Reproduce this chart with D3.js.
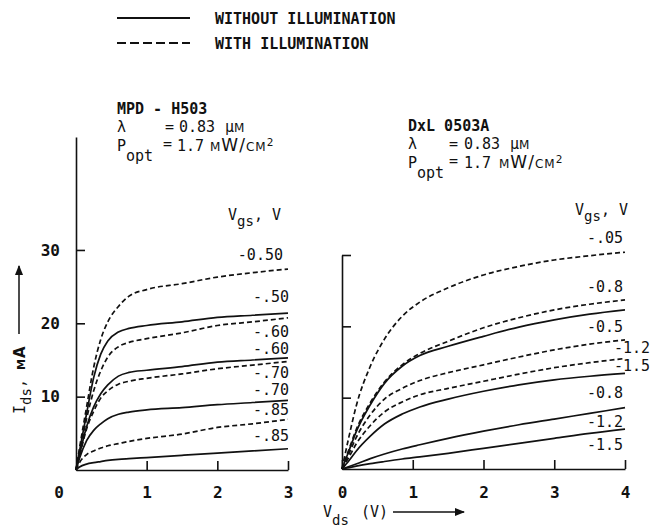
<!DOCTYPE html>
<html>
<head>
<meta charset="utf-8">
<script src="https://cdn.jsdelivr.net/npm/d3@7"></script>
<style>
body { margin: 0; background: #fff; }
text { font-family: "DejaVu Sans Mono", monospace; font-size: 15px; fill: #111; }
.sc { font-family: "DejaVu Sans", sans-serif; font-variant: small-caps; font-size: 17px; letter-spacing: 1px; }
.tick text { font-weight: bold; font-size: 16px; }
</style>
</head>
<body>
<svg id="chart" width="653" height="532"></svg>
<script>
// MPD - H503 (left), Ids in mA
let mpdVds = [0, 0.05, 0.15, 0.25, 0.35, 0.45, 0.6, 0.75, 1, 1.5, 2, 2.5, 3];
let mpdLit050  = [0, 3, 8.6, 14, 17.8, 20.2, 22.3, 23.7, 24.6, 25.4, 26.3, 26.9, 27.4];
let mpdDark050 = [0, 2.6, 7.7, 12.6, 15.8, 17.6, 18.8, 19.3, 19.7, 20.2, 20.8, 21.1, 21.4];
let mpdLit060  = [0, 2.3, 7, 10.8, 13.5, 15.4, 16.8, 17.4, 17.9, 18.7, 19.7, 20.2, 20.75];
let mpdDark060 = [0, 2.1, 5.9, 8.6, 10.4, 11.6, 12.8, 13.3, 13.6, 14.1, 14.7, 15, 15.3];
let mpdLit070  = [0, 1.9, 5.6, 8, 9.8, 10.8, 11.7, 12.1, 12.5, 13.1, 13.8, 14.3, 14.8];
let mpdDark070 = [0, 1.6, 4, 5.4, 6.3, 7, 7.6, 7.9, 8.2, 8.5, 8.9, 9.2, 9.5];
let mpdLit085  = [0, 1, 2.1, 2.6, 3, 3.3, 3.6, 3.9, 4.3, 4.9, 5.8, 6.3, 6.9];
let mpdDark085 = [0, 0.4, 0.8, 1.0, 1.15, 1.3, 1.45, 1.55, 1.7, 2.0, 2.3, 2.6, 2.9];
let mpdLabels = ["-0.50", "-.50", "-.60", "-.60", "-.70", "-.70", "-.85", "-.85"];
let mpdLabelAt = [28.6, 22.9, 18.2, 15.8, 12.6, 10.2, 7.5, 3.95];

// DxL 0503A (right)
let dxlVds = [0, 0.1, 0.2, 0.4, 0.6, 0.85, 1.1, 1.5, 2, 2.5, 3, 3.5, 4];
let dxlLit005  = [0, 4.6, 8.8, 14.4, 18.2, 21.4, 23.4, 25.4, 27.2, 28.4, 29.3, 29.9, 30.4];
let dxlLit08   = [0, 2.8, 5.5, 9.3, 12.2, 14.6, 16.2, 17.9, 19.8, 21.2, 22.3, 23.1, 23.7];
let dxlDark05  = [0, 2.6, 5.2, 9, 12, 14.4, 15.9, 17.2, 18.6, 19.9, 20.9, 21.7, 22.3];
let dxlLit12   = [0, 2.2, 4.4, 7.6, 9.8, 11.3, 12.4, 13.5, 14.6, 15.7, 16.7, 17.5, 18.1];
let dxlLit15   = [0, 1.7, 3.5, 6.1, 8, 9.4, 10.4, 11.3, 12.3, 13.3, 14.2, 14.9, 15.5];
let dxlDark08  = [0, 1.2, 2.5, 4.6, 6.3, 7.7, 8.7, 9.8, 10.9, 11.8, 12.5, 13, 13.4];
let dxlDark12  = [0, 0.35, 0.7, 1.45, 2.1, 2.8, 3.4, 4.3, 5.3, 6.2, 7, 7.8, 8.6];
let dxlDark15  = [0, 0.2, 0.4, 0.75, 1.05, 1.4, 1.7, 2.2, 2.9, 3.6, 4.3, 5, 5.6];
let dxlLabels = ["-.05", "-0.8", "-0.5", "-1.2", "-1.5", "-0.8", "-1.2", "-1.5"];
let dxlLabelAt = [31.7, 24.8, 19.2, 16.3, 13.8, 10, 5.9, 2.7];
let dxlLabelOut = [false, false, false, true, true, false, false, false];

let mpdSeries = [
    {v: mpdLit050, lit: true}, {v: mpdDark050, lit: false},
    {v: mpdLit060, lit: true}, {v: mpdDark060, lit: false},
    {v: mpdLit070, lit: true}, {v: mpdDark070, lit: false},
    {v: mpdLit085, lit: true}, {v: mpdDark085, lit: false}
];
let dxlSeries = [
    {v: dxlLit005, lit: true}, {v: dxlLit08, lit: true}, {v: dxlDark05, lit: false},
    {v: dxlLit12, lit: true}, {v: dxlLit15, lit: true},
    {v: dxlDark08, lit: false}, {v: dxlDark12, lit: false}, {v: dxlDark15, lit: false}
];

let svg = d3.select("#chart");
let dash = "5,3";

let xL = d3.scaleLinear().domain([0, 3]).range([76, 288]);
let yL = d3.scaleLinear().domain([0, 45.4]).range([470, 137]);
let xR = d3.scaleLinear().domain([0, 4]).range([342, 625]);
let yR = d3.scaleLinear().domain([0, 30]).range([469, 255]);

function styleAxis(g) {
    g.attr("font-family", null).attr("font-size", null);
    g.selectAll("path, line").attr("stroke", "#111").attr("stroke-width", 1.6);
}

// left axes
svg.append("g").attr("transform", "translate(" + xL(0) + ",0)")
    .call(d3.axisLeft(yL).tickValues([10, 20, 30]).tickSize(-9).tickSizeOuter(0).tickPadding(16))
    .call(styleAxis);
svg.append("g").attr("transform", "translate(0," + yL(0) + ")")
    .call(d3.axisBottom(xL).tickValues([1, 2, 3]).tickFormat(d3.format("d"))
        .tickSize(-9).tickSizeOuter(0).tickPadding(17))
    .call(styleAxis);
svg.append("g").attr("class", "tick").append("text")
    .attr("x", xL(0) - 17).attr("y", yL(0) + 28)
    .attr("text-anchor", "middle").text("0");

// right axes
svg.append("g").attr("transform", "translate(" + xR(0) + ",0)")
    .call(d3.axisLeft(yR).tickValues([10, 20, 30]).tickSize(-9).tickSizeOuter(0).tickFormat(""))
    .call(styleAxis);
svg.append("g").attr("transform", "translate(0," + yR(0) + ")")
    .call(d3.axisBottom(xR).tickValues([0, 1, 2, 3, 4]).tickFormat(d3.format("d"))
        .tickSize(-9).tickSizeOuter(0).tickPadding(18))
    .call(styleAxis);

// curves
function drawCurves(series, vds, x, y) {
    let line = d3.line()
        .x((d, i) => x(vds[i]))
        .y(d => y(d))
        .curve(d3.curveMonotoneX);
    svg.append("g").selectAll("path")
        .data(series)
        .enter()
        .append("path")
        .attr("d", d => line(d.v))
        .attr("fill", "none")
        .attr("stroke", "#111")
        .attr("stroke-width", 1.7)
        .attr("stroke-dasharray", d => d.lit ? dash : null);
}
drawCurves(mpdSeries, mpdVds, xL, yL);
drawCurves(dxlSeries, dxlVds, xR, yR);

// curve labels
svg.append("g").selectAll("text")
    .data(mpdLabels)
    .enter()
    .append("text")
    .attr("x", (d, i) => xL(3) + (i == 0 ? -5 : 1))
    .attr("y", (d, i) => yL(mpdLabelAt[i]))
    .attr("font-size", 14)
    .attr("text-anchor", "end")
    .text(d => d);
svg.append("g").selectAll("text")
    .data(dxlLabels)
    .enter()
    .append("text")
    .attr("x", (d, i) => xR(4) + (dxlLabelOut[i] ? 25 : -2))
    .attr("y", (d, i) => yR(dxlLabelAt[i]))
    .attr("font-size", 14)
    .attr("text-anchor", "end")
    .text(d => d);

// Vgs headers
function vgs(x, y) {
    let t = svg.append("text").attr("x", x).attr("y", y);
    t.append("tspan").text("V");
    t.append("tspan").attr("dy", 6).attr("font-size", 14).text("gs");
    t.append("tspan").attr("dy", -6).text(", V");
}
vgs(228, 220);
vgs(575, 215);

// device headers: offsets of the pieces from the left edge of the block
function header(x, y, name, pos) {
    svg.append("text").attr("x", x).attr("y", y).attr("font-weight", "bold").text(name);
    let yl = y + 18, yp = y + 37;
    svg.append("text").attr("x", x).attr("y", yl).text("λ");
    svg.append("text").attr("x", x + pos.eq1).attr("y", yl).text("=");
    svg.append("text").attr("x", x + pos.num1).attr("y", yl).text("0.83");
    let u = svg.append("text").attr("x", x + pos.unit1).attr("y", yl);
    u.append("tspan").text("μ");
    u.append("tspan").attr("class", "sc").text("m");
    svg.append("text").attr("x", x).attr("y", yp).text("P");
    svg.append("text").attr("x", x + 9).attr("y", yp + 10).attr("font-size", 14).text("opt");
    svg.append("text").attr("x", x + pos.eq2).attr("y", yp - 2).text("=");
    svg.append("text").attr("x", x + pos.num2).attr("y", yp).text("1.7");
    let p = svg.append("text").attr("x", x + pos.unit2).attr("y", yp);
    p.append("tspan").attr("class", "sc").text("mW/cm");
    p.append("tspan").attr("dy", -5).attr("font-size", 11).text("2");
}
header(117, 114, "MPD - H503", {eq1: 48, num1: 62, unit1: 108, eq2: 46, num2: 60, unit2: 93});
header(408, 131, "DxL  0503A", {eq1: 41, num1: 56, unit1: 102, eq2: 41, num2: 56, unit2: 91});

// axis titles
let ids = svg.append("text").attr("transform", "translate(25,414) rotate(-90)");
ids.append("tspan").text("I");
ids.append("tspan").attr("dy", 6).attr("font-size", 14).text("ds");
ids.append("tspan").attr("dy", -6).text(", ");
ids.append("tspan").attr("class", "sc").attr("font-weight", "bold").style("font-size", "15px").text("mA");

svg.append("defs").append("marker")
    .attr("id", "head")
    .attr("viewBox", "0 0 10 10")
    .attr("refX", 9).attr("refY", 5)
    .attr("markerWidth", 7).attr("markerHeight", 7)
    .attr("orient", "auto")
    .append("path").attr("d", "M0,1L10,5L0,9Z").attr("fill", "#111");

svg.append("line").attr("x1", 19).attr("y1", 334).attr("x2", 19).attr("y2", 266)
    .attr("stroke", "#111").attr("stroke-width", 1.5).attr("marker-end", "url(#head)");

let vds = svg.append("text").attr("x", 323).attr("y", 517);
vds.append("tspan").text("V");
vds.append("tspan").attr("dy", 8).attr("font-size", 14).text("ds");
vds.append("tspan").attr("dy", -8).attr("dx", 12).text("(V)");
svg.append("line").attr("x1", 393).attr("y1", 512).attr("x2", 464).attr("y2", 512)
    .attr("stroke", "#111").attr("stroke-width", 1.5).attr("marker-end", "url(#head)");

// legend
let legend = svg.append("g").attr("font-weight", "bold");
legend.append("line").attr("x1", 117).attr("x2", 190).attr("y1", 18).attr("y2", 18)
    .attr("stroke", "#111").attr("stroke-width", 1.8);
legend.append("line").attr("x1", 117).attr("x2", 190).attr("y1", 43).attr("y2", 43)
    .attr("stroke", "#111").attr("stroke-width", 1.8).attr("stroke-dasharray", "9,4");
legend.append("text").attr("x", 215).attr("y", 24).text("WITHOUT ILLUMINATION");
legend.append("text").attr("x", 215).attr("y", 49).text("WITH ILLUMINATION");
</script>
</body>
</html>
